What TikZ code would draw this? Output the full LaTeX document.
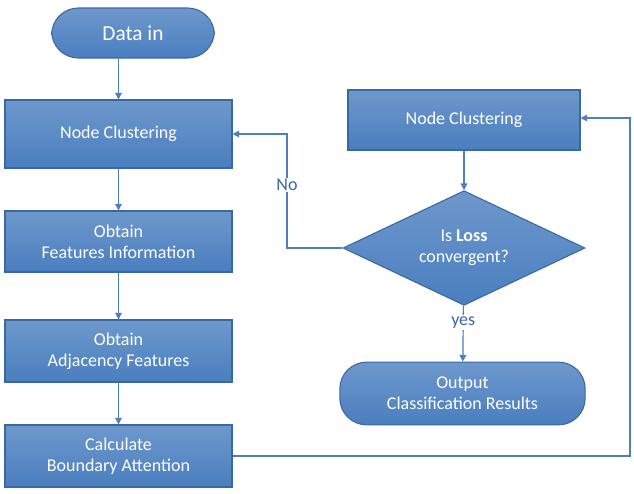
\documentclass[tikz,border=0pt]{standalone}
\usepackage{fontspec}
\setmainfont{Carlito}
\usetikzlibrary{shapes.geometric,arrows.meta}
\definecolor{bf}{HTML}{4A7EBF}
\definecolor{bd}{HTML}{3A68A2}
\definecolor{ln}{HTML}{4F7EBA}
\begin{document}
\begin{tikzpicture}[x=0.75pt,y=-0.75pt,
 box/.style={draw=bd,line width=0.8pt,top color=bf!80!white,bottom color=bf,text=white,font=\fontsize{13.5}{15.5}\selectfont,align=center,inner sep=0pt},
 rbox/.style={box,rectangle,minimum width=170.25pt,minimum height=#1},
 pill/.style={box,rectangle,rounded corners=20pt},
 ar/.style={draw=ln,line width=0.9pt,-{Triangle[length=5pt,width=5pt]}},
 lab/.style={text=bd,font=\fontsize{13.5}{15.5}\selectfont}]
\useasboundingbox (0,0) rectangle (634,493);
\node[pill,minimum width=122pt,minimum height=37.5pt,font=\fontsize{16}{18}\selectfont] (a) at (133,33) {Data in};
\node[rbox=51pt] (b) at (118.5,134) {Node Clustering};
\node[rbox=45.75pt] (c) at (118.5,241.5) {Obtain\\Features Information};
\node[rbox=46.5pt] (d) at (118.5,351) {Obtain\\Adjacency Features};
\node[rbox=46.5pt] (e) at (118.5,456) {Calculate\\Boundary Attention};
\node[box,rectangle,minimum width=174pt,minimum height=45pt] (f) at (464,120) {Node Clustering};
\node[box,diamond,minimum width=181.5pt,minimum height=86pt,aspect=2.1,inner sep=0pt] (g) at (464,248) {Is \textbf{Loss}\\convergent?};
\node[pill,minimum width=184pt,minimum height=47pt] (h) at (462.5,393.5) {Output\\Classification Results};
\coordinate (r1) at (630,456);
\coordinate (r2) at (630,118);
\coordinate (l1) at (287,248);
\coordinate (l2) at (287,134);
\draw[ar] (b|-a.south) -- (b);
\draw[ar] (b) -- (c);
\draw[ar] (c) -- (d);
\draw[ar] (d) -- (e);
\draw[ar] (e.east) -- (r1) -- (r2) -- (f.east|-r2);
\draw[ar] (f) -- (g);
\draw[ar] (g) -- node[lab,fill=white,inner sep=1pt,pos=0.3]{yes} (h);
\draw[ar] (g.west) -- (l1) -- (l2) -- (b.east);
\node[lab,fill=white,inner sep=1pt] (no) at (287,185) {No};
\end{tikzpicture}
\end{document}
